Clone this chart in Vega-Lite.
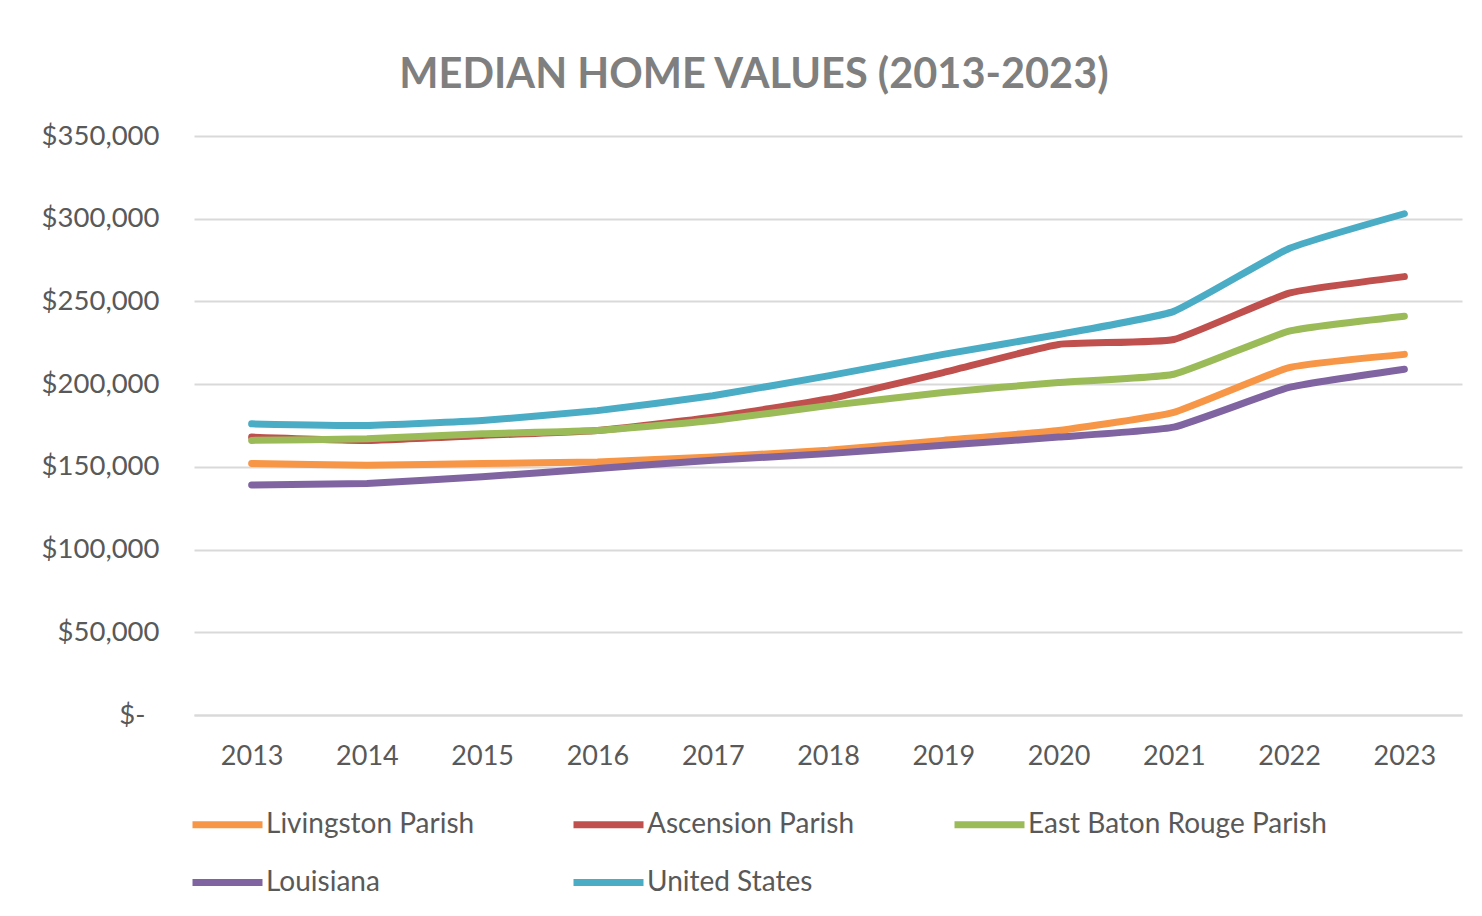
{
  "$schema": "https://vega.github.io/schema/vega-lite/v6.json",
  "autosize": "none",
  "width": 1268,
  "height": 579,
  "padding": {"left": 194, "top": 136, "right": 20, "bottom": 201},
  "background": "white",
  "title": {
    "text": "MEDIAN HOME VALUES (2013-2023)",
    "font": "Lato",
    "fontSize": 41.5,
    "fontWeight": "bold",
    "color": "#7f7f7f",
    "anchor": "middle",
    "dx": -74,
    "offset": 26
  },
  "data": {
    "values": [
      {"year": "2013", "series": "Livingston Parish", "value": 152000},
      {"year": "2014", "series": "Livingston Parish", "value": 151000},
      {"year": "2015", "series": "Livingston Parish", "value": 152000},
      {"year": "2016", "series": "Livingston Parish", "value": 153000},
      {"year": "2017", "series": "Livingston Parish", "value": 156000},
      {"year": "2018", "series": "Livingston Parish", "value": 160000},
      {"year": "2019", "series": "Livingston Parish", "value": 166000},
      {"year": "2020", "series": "Livingston Parish", "value": 172000},
      {"year": "2021", "series": "Livingston Parish", "value": 183000},
      {"year": "2022", "series": "Livingston Parish", "value": 210000},
      {"year": "2023", "series": "Livingston Parish", "value": 218000},
      {"year": "2013", "series": "Ascension Parish", "value": 168000},
      {"year": "2014", "series": "Ascension Parish", "value": 166000},
      {"year": "2015", "series": "Ascension Parish", "value": 169000},
      {"year": "2016", "series": "Ascension Parish", "value": 172000},
      {"year": "2017", "series": "Ascension Parish", "value": 180000},
      {"year": "2018", "series": "Ascension Parish", "value": 191000},
      {"year": "2019", "series": "Ascension Parish", "value": 207000},
      {"year": "2020", "series": "Ascension Parish", "value": 224000},
      {"year": "2021", "series": "Ascension Parish", "value": 227000},
      {"year": "2022", "series": "Ascension Parish", "value": 255000},
      {"year": "2023", "series": "Ascension Parish", "value": 265000},
      {"year": "2013", "series": "East Baton Rouge Parish", "value": 166000},
      {"year": "2014", "series": "East Baton Rouge Parish", "value": 167000},
      {"year": "2015", "series": "East Baton Rouge Parish", "value": 170000},
      {"year": "2016", "series": "East Baton Rouge Parish", "value": 172000},
      {"year": "2017", "series": "East Baton Rouge Parish", "value": 178000},
      {"year": "2018", "series": "East Baton Rouge Parish", "value": 187000},
      {"year": "2019", "series": "East Baton Rouge Parish", "value": 195000},
      {"year": "2020", "series": "East Baton Rouge Parish", "value": 201000},
      {"year": "2021", "series": "East Baton Rouge Parish", "value": 206000},
      {"year": "2022", "series": "East Baton Rouge Parish", "value": 232000},
      {"year": "2023", "series": "East Baton Rouge Parish", "value": 241000},
      {"year": "2013", "series": "Louisiana", "value": 139000},
      {"year": "2014", "series": "Louisiana", "value": 140000},
      {"year": "2015", "series": "Louisiana", "value": 144000},
      {"year": "2016", "series": "Louisiana", "value": 149000},
      {"year": "2017", "series": "Louisiana", "value": 154000},
      {"year": "2018", "series": "Louisiana", "value": 158000},
      {"year": "2019", "series": "Louisiana", "value": 163000},
      {"year": "2020", "series": "Louisiana", "value": 168000},
      {"year": "2021", "series": "Louisiana", "value": 174000},
      {"year": "2022", "series": "Louisiana", "value": 198000},
      {"year": "2023", "series": "Louisiana", "value": 209000},
      {"year": "2013", "series": "United States", "value": 176000},
      {"year": "2014", "series": "United States", "value": 175000},
      {"year": "2015", "series": "United States", "value": 178000},
      {"year": "2016", "series": "United States", "value": 184000},
      {"year": "2017", "series": "United States", "value": 193000},
      {"year": "2018", "series": "United States", "value": 205000},
      {"year": "2019", "series": "United States", "value": 218000},
      {"year": "2020", "series": "United States", "value": 230000},
      {"year": "2021", "series": "United States", "value": 244000},
      {"year": "2022", "series": "United States", "value": 282000},
      {"year": "2023", "series": "United States", "value": 303000}
    ]
  },
  "mark": {"type": "line", "interpolate": "cardinal", "tension": 0.6, "strokeWidth": 7, "strokeCap": "round", "strokeJoin": "round"},
  "encoding": {
    "x": {
      "field": "year", "type": "ordinal",
      "scale": {"type": "point", "padding": 0.5},
      "axis": {
        "title": null, "labelAngle": 0, "ticks": false, "grid": false,
        "domain": true, "domainColor": "#d9d9d9", "domainWidth": 2,
        "labelFont": "Lato", "labelFontSize": 27, "labelColor": "#595959",
        "labelPadding": 28
      }
    },
    "y": {
      "field": "value", "type": "quantitative",
      "scale": {"domain": [0, 350000], "nice": false},
      "axis": {
        "title": null, "values": [0, 50000, 100000, 150000, 200000, 250000, 300000, 350000],
        "ticks": false, "domain": false, "gridColor": "#d9d9d9", "gridWidth": 2,
        "labelExpr": "datum.value == 0 ? '$-' : '$' + format(datum.value, ',')",
        "labelFont": "Lato", "labelFontSize": 27.5, "labelColor": "#595959",
        "labelPadding": {"condition": {"test": "datum.value == 0", "value": 49}, "value": 35}
      }
    },
    "color": {
      "field": "series", "type": "nominal",
      "sort": ["Livingston Parish", "Ascension Parish", "East Baton Rouge Parish", "Louisiana", "United States"],
      "scale": {
        "domain": ["Livingston Parish", "Ascension Parish", "East Baton Rouge Parish", "Louisiana", "United States"],
        "range": ["#F79646", "#C0504D", "#9BBB59", "#8064A2", "#4BACC6"]
      },
      "legend": {
        "title": null, "orient": "none", "legendX": -5, "legendY": 650,
        "direction": "horizontal", "columns": 3, "gridAlign": "all",
        "symbolType": "stroke", "symbolSize": 4900, "symbolStrokeWidth": 7,
        "labelFont": "Lato", "labelFontSize": 28, "labelColor": "#595959",
        "labelOffset": 0, "columnPadding": -6, "rowPadding": 5, "labelLimit": 400
      }
    }
  },
  "config": {"view": {"stroke": null}}
}
